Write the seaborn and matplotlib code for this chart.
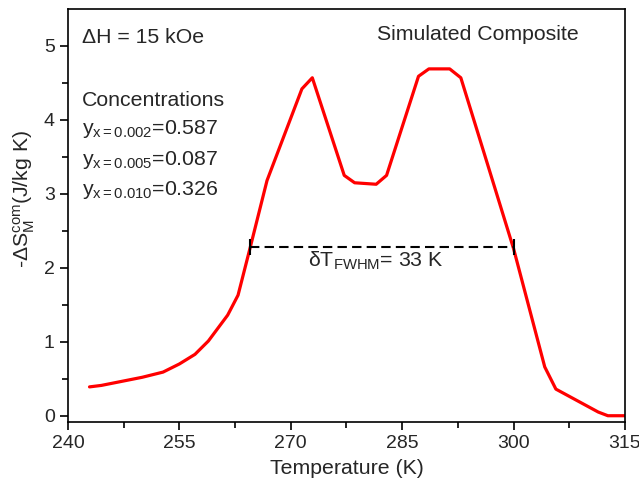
import matplotlib
matplotlib.use('Agg')
import matplotlib.pyplot as plt
import seaborn as sns

# Dados
temperatura = [242.9, 244.5, 247.0, 250.0, 252.8, 255.0, 257.1, 258.9, 261.5, 262.9,
               264.5, 266.8, 271.5, 272.9, 277.2, 278.6, 281.5, 282.9, 287.2, 288.6,
               291.4, 292.9, 296.5, 300.0, 304.2, 305.7, 311.4, 312.7, 315.0]
delta_s = [0.39, 0.41, 0.46, 0.52, 0.59, 0.70, 0.83, 1.01, 1.36, 1.63,
           2.26, 3.18, 4.42, 4.57, 3.25, 3.15, 3.13, 3.25, 4.59, 4.69,
           4.69, 4.57, 3.40, 2.26, 0.66, 0.36, 0.05, 0.0, 0.0]
fwhm_x = [264.5, 300.0]
fwhm_y = [2.28, 2.28]
concentracoes = ['0.002', '0.005', '0.010']
pesos = ['0.587', '0.087', '0.326']

sns.set_style('ticks')
plt.rcParams['font.family'] = ['Liberation Sans', 'DejaVu Sans']
plt.rcParams['mathtext.fontset'] = 'custom'
plt.rcParams['mathtext.rm'] = 'Liberation Sans'
plt.rcParams['mathtext.it'] = 'Liberation Sans:italic'

fig = plt.figure(figsize=(6.39, 4.91), dpi=100)
ax = fig.add_axes([0.1064, 0.1405, 0.8716, 0.8412])

sns.lineplot(x=temperatura, y=delta_s, sort=False, color='red', linewidth=2.3, ax=ax)
ax.plot(fwhm_x, fwhm_y, color='black', linestyle=(0, (4.5, 2.5)), linewidth=1.5)
ax.plot(fwhm_x, fwhm_y, linestyle='none', marker='|', markersize=11,
        markeredgewidth=1.5, color='black')

ax.set_xlim(240, 315)
ax.set_ylim(-0.085, 5.5)
ax.set_xticks([240, 255, 270, 285, 300, 315])
ax.set_xticks([247.5, 262.5, 277.5, 292.5, 307.5], minor=True)
ax.set_yticks([0, 1, 2, 3, 4, 5])
ax.set_yticks([0.5, 1.5, 2.5, 3.5, 4.5], minor=True)
ax.tick_params(which='major', direction='out', length=6, width=1.2, labelsize=14, color='black')
ax.tick_params(which='minor', direction='out', length=4, width=1.2, color='black')
for s in ax.spines.values():
    s.set_color('black')
    s.set_linewidth(1.2)

fs = 15.3
ax.set_xlabel('Temperature (K)', fontsize=fs, labelpad=5)
ax.set_ylabel('-ΔS' + r'$_{\mathregular{M}}^{\mathregular{com}}$' + '(J/kg K)', fontsize=fs)
ax.yaxis.set_label_coords(-0.056, 0.54)

ax.text(0.025, 0.918, 'ΔH = 15 kOe', transform=ax.transAxes, fontsize=fs, va='baseline')
ax.text(0.736, 0.925, 'Simulated Composite', transform=ax.transAxes, fontsize=fs,
        va='baseline', ha='center')
ax.text(0.025, 0.765, 'Concentrations', transform=ax.transAxes, fontsize=fs, va='baseline')
linhas_y = [0.697, 0.622, 0.550]
for c, p, yy in zip(concentracoes, pesos, linhas_y):
    ax.text(0.025, yy, r'y$_{\mathregular{x=' + c + '}}$=' + p,
            transform=ax.transAxes, fontsize=fs, va='baseline')
ax.text(272.3, 2.01, 'δT' + r'$_{\mathregular{FWHM}}$' + '= 33 K', fontsize=fs, va='baseline')

plt.savefig('out.png', dpi=100)
